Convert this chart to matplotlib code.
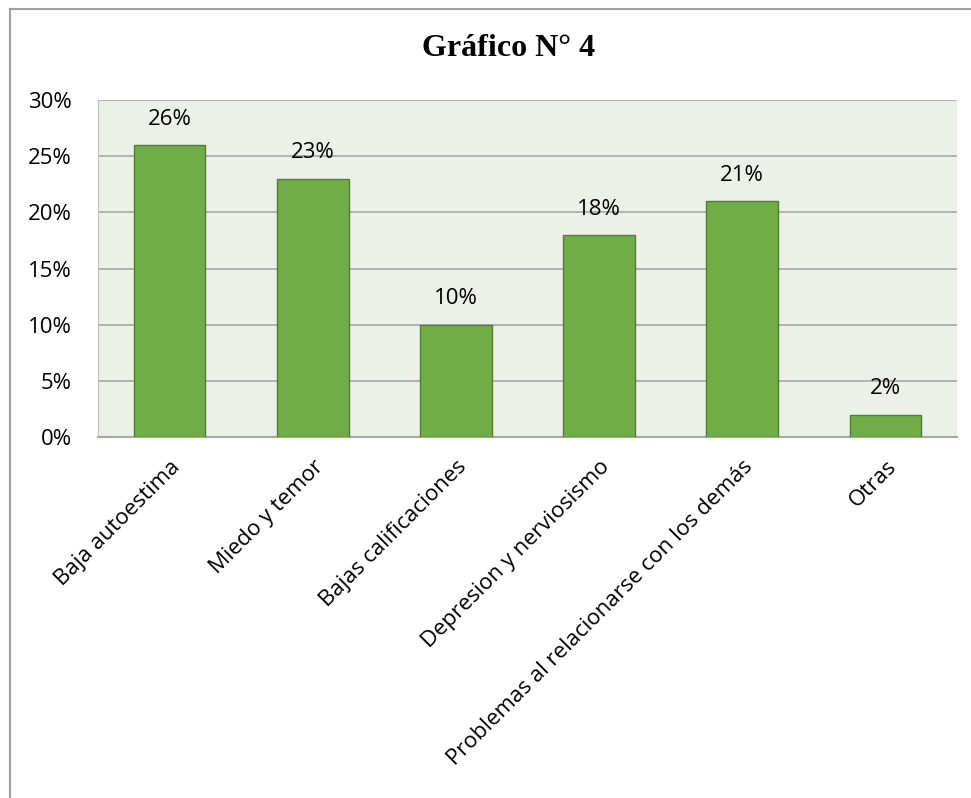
import numpy as np
import matplotlib.pyplot as plt
from matplotlib.lines import Line2D
from matplotlib.ticker import FuncFormatter

# datos
categorias = ["Baja autoestima", "Miedo y temor", "Bajas calificaciones",
              "Depresion y nerviosismo", "Problemas al relacionarse con los demás",
              "Otras"]
porcentajes = [26, 23, 10, 18, 21, 2]
ticks_y = [0, 5, 10, 15, 20, 25, 30]

plt.rcParams['font.family'] = ['Open Sans', 'DejaVu Sans']

fig = plt.figure(figsize=(9.71, 7.98), dpi=100)
ax = fig.add_axes([98 / 971, 1 - 437 / 798, (957 - 98) / 971, (437 - 100) / 798])

x = np.arange(len(categorias))
ax.bar(x, porcentajes, width=0.5, color='#70AD47', edgecolor='#507E32',
       linewidth=1, zorder=3)

for xi, v in zip(x, porcentajes):
    ax.annotate(f"{v}%", (xi, v), xytext=(0, 11), textcoords='offset points',
                ha='center', va='bottom', fontsize=16)

ax.set_xlim(-0.5, len(categorias) - 0.5)
ax.set_ylim(0, 30)
ax.set_yticks(ticks_y)
ax.yaxis.set_major_formatter(FuncFormatter(lambda v, p: f"{v:.0f}%"))
ax.set_xticks(x)
ax.set_xticklabels(categorias, rotation=45, ha='right', rotation_mode='anchor')
ax.tick_params(axis='both', length=0, labelsize=16)
ax.tick_params(axis='y', pad=19)
ax.tick_params(axis='x', pad=14)

ax.set_facecolor('#EBF0E8')
ax.grid(axis='y', color='#A6A6A6', linewidth=1.2, zorder=0)
for s in ['top', 'right']:
    ax.spines[s].set_visible(False)
ax.spines['left'].set_color('#BFBFBF')
ax.spines['bottom'].set_color('#A6A6A6')
ax.spines['bottom'].set_linewidth(1.5)

fig.text(509 / 971, 1 - 48 / 798, "Gráfico N° 4", ha='center', va='center',
         fontsize=23, fontweight='bold', family='Liberation Serif')

# marco
fig.add_artist(Line2D([10 / 971, 1], [1 - 9 / 798, 1 - 9 / 798],
                      transform=fig.transFigure, color='#A0A0A0', linewidth=1.5))
fig.add_artist(Line2D([10 / 971, 10 / 971], [0, 1 - 9 / 798],
                      transform=fig.transFigure, color='#A0A0A0', linewidth=1.5))

fig.savefig("out.png", dpi=100)
